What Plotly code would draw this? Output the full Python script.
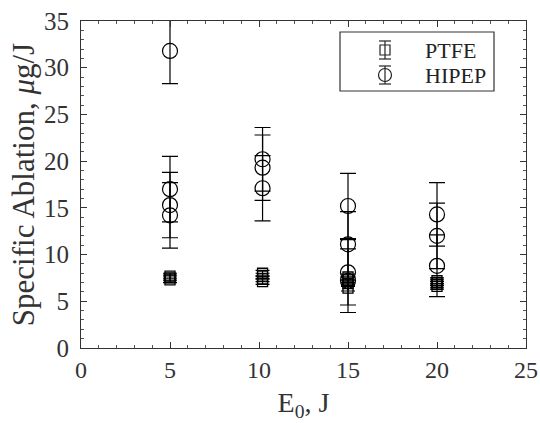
import plotly.graph_objects as go

# PTFE data
ptfe_x = [5, 5, 5, 10.2, 10.2, 10.2, 10.2, 15, 15, 15, 15, 20, 20, 20, 20]
ptfe_y = [7.3, 7.5, 7.7, 7.1, 7.4, 7.7, 8.0, 6.4, 6.9, 7.3, 7.6, 6.6, 6.8, 7.0, 7.2]
ptfe_err = [0.3, 0.3, 0.3, 0.3, 0.3, 0.3, 0.3, 0.3, 0.3, 0.3, 0.3, 0.3, 0.3, 0.3, 0.3]

# HIPEP data
hipep_x = [5, 5, 5, 5, 10.2, 10.2, 10.2, 15, 15, 15, 15, 20, 20, 20]
hipep_y = [31.8, 17.0, 15.3, 14.2, 20.2, 19.3, 17.1, 15.2, 11.1, 8.1, 7.2, 14.3, 12.0, 8.8]
hipep_err = [3.5, 3.5, 3.5, 3.5, 3.4, 3.5, 3.5, 3.5, 3.5, 3.5, 3.4, 3.4, 3.5, 3.3]

series_names = ["PTFE", "HIPEP"]

font_family = "Liberation Serif"
W, H = 540, 423
ML, MR, MT, MB = 81, 14, 21, 75
PW, PH = W - ML - MR, H - MT - MB


def px(xp):
    return (xp - ML) / PW


def py(yp):
    return (H - MB - yp) / PH


fig = go.Figure()
fig.add_trace(go.Scatter(
    x=ptfe_x, y=ptfe_y, mode="markers", name=series_names[0],
    marker=dict(symbol="square-open", size=10, color="black", line=dict(width=1.3, color="black")),
    error_y=dict(type="data", array=ptfe_err, color="black", thickness=1.2, width=7),
))
fig.add_trace(go.Scatter(
    x=hipep_x, y=hipep_y, mode="markers", name=series_names[1],
    marker=dict(symbol="circle-open", size=15, color="black", line=dict(width=1.2, color="black")),
    error_y=dict(type="data", array=hipep_err, color="black", thickness=1.2, width=8),
))

axis_common = dict(
    showline=True, linecolor="#333333", linewidth=1.2, mirror="ticks",
    ticks="inside", ticklen=6, tickcolor="#333333", tickwidth=1,
    showgrid=False, zeroline=False, automargin=False,
    minor=dict(ticks="inside", ticklen=3, dtick=1, tickcolor="#555555", showgrid=False),
)

fig.update_xaxes(range=[0, 25], dtick=5, tick0=0,
                 tickfont=dict(family=font_family, size=24, color="#333333"),
                 ticklabelstandoff=0,
                 title=dict(text="E<sub>0</sub>, J", font=dict(family=font_family, size=28, color="#333333"), standoff=10),
                 **axis_common)
fig.update_yaxes(range=[0, 35], dtick=5, tick0=0,
                 tickfont=dict(family=font_family, size=25, color="#333333"),
                 ticklabelstandoff=6,
                 title=dict(text="Specific Ablation, <i>μ</i>g/J", font=dict(family=font_family, size=31, color="#333333"), standoff=0),
                 **axis_common)

lc = dict(color="#222222", width=1.2)
# legend frame
fig.add_shape(type="rect", xref="paper", yref="paper",
              x0=px(340), x1=px(494), y0=py(91), y1=py(32),
              line=dict(color="#333333", width=1.2), fillcolor="white", layer="below")
# legend symbols: PTFE (square with error bar)
cx, cy = 385, 50
fig.add_shape(type="rect", xref="paper", yref="paper", x0=px(cx - 5), x1=px(cx + 5), y0=py(cy + 5), y1=py(cy - 5), line=lc)
fig.add_shape(type="line", xref="paper", yref="paper", x0=px(cx), x1=px(cx), y0=py(cy + 9), y1=py(cy - 9), line=lc)
for dy in (-9, 9):
    fig.add_shape(type="line", xref="paper", yref="paper", x0=px(cx - 6), x1=px(cx + 6), y0=py(cy + dy), y1=py(cy + dy), line=lc)
# HIPEP (circle with error bar)
cy = 75
fig.add_shape(type="circle", xref="paper", yref="paper", x0=px(cx - 6.5), x1=px(cx + 6.5), y0=py(cy + 6.5), y1=py(cy - 6.5), line=lc)
fig.add_shape(type="line", xref="paper", yref="paper", x0=px(cx), x1=px(cx), y0=py(cy + 9), y1=py(cy - 9), line=lc)
for dy in (-9, 9):
    fig.add_shape(type="line", xref="paper", yref="paper", x0=px(cx - 6), x1=px(cx + 6), y0=py(cy + dy), y1=py(cy + dy), line=lc)

for name, ty in zip(series_names, (50, 75)):
    fig.add_annotation(xref="paper", yref="paper", x=px(423), y=py(ty), text=name,
                       showarrow=False, xanchor="left", yanchor="middle",
                       font=dict(family=font_family, size=22, color="#222222"))

fig.update_layout(
    width=W, height=H,
    margin=dict(l=ML, r=MR, t=MT, b=MB),
    plot_bgcolor="white", paper_bgcolor="white",
    font=dict(family=font_family, color="#333333"),
    showlegend=False,
)

fig.write_html("out.html", config={"displayModeBar": False},
               post_script="document.body.style.margin='0';document.body.style.overflow='hidden';")
